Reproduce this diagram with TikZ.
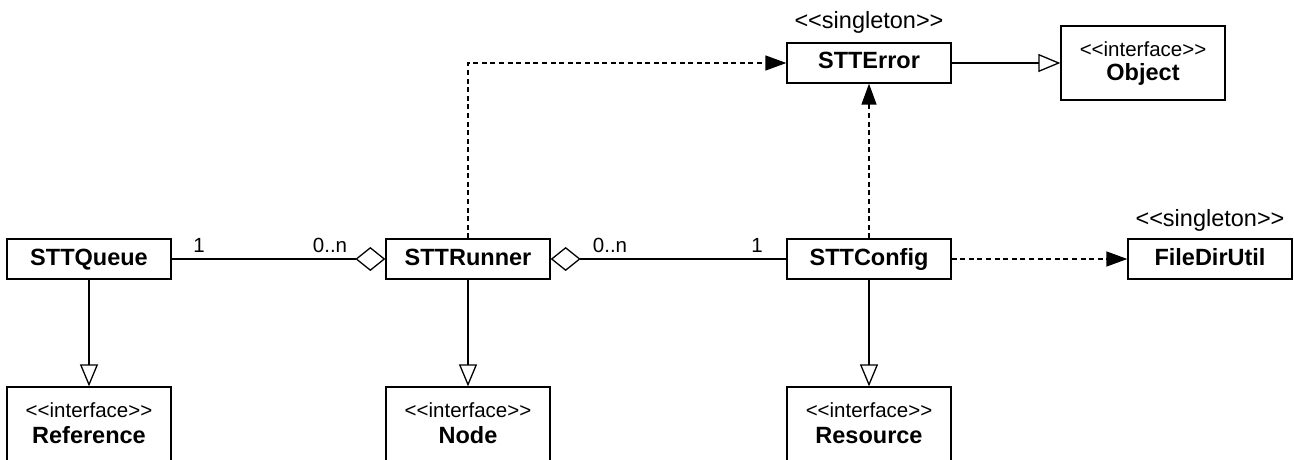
\documentclass[tikz,border=0pt]{standalone}
\usepackage{fontspec}
\setmainfont{Liberation Sans}
\usetikzlibrary{arrows.meta}
% guillemet-free stereotype brackets (a kern keeps the font mapping from joining them)
\newcommand\stlt{<\kern0pt<}
\newcommand\stgt{>\kern0pt>}
\begin{document}
\begin{tikzpicture}[x=1pt, y=-1pt,
  line width=1.3pt,
  boxbase/.style={draw, line width=1.3pt, minimum width=164pt, inner sep=0pt},
  cls/.style={boxbase, minimum height=40pt, text height=17pt, text depth=5pt,
    font=\fontsize{23.5}{28}\selectfont\bfseries},
  ifacebox/.style={boxbase, minimum height=74pt},
  ifname/.style={inner sep=0pt, text height=17pt, text depth=5pt,
    font=\fontsize{23.5}{28}\selectfont\bfseries},
  stereo/.style={inner sep=0pt, text height=15pt, text depth=0pt,
    font=\fontsize{20.5}{24}\selectfont},
  single/.style={inner sep=0pt, text height=17pt, text depth=5pt,
    font=\fontsize{23.5}{28}\selectfont},
  mult/.style={inner sep=0pt, text height=15pt, text depth=0pt,
    font=\fontsize{20.5}{24}\selectfont},
  realize/.style={-{Triangle[open, length=22pt, width=18pt]}},
  depend/.style={dash pattern=on 5pt off 3.6pt,
    -{Triangle[length=21pt, width=15pt]}},
  aggr/.style={-{Diamond[open, length=30pt, width=24pt]}},
  raggr/.style={{Diamond[open, length=30pt, width=24pt]}-}
]
\useasboundingbox (0,0) rectangle (1294,460);
\clip (0,0) rectangle (1294,460);

% classes in the middle row
\node[cls] (queue)  at (89,259)   {STTQueue};
\node[cls] (runner) at (468,259)  {STTRunner};
\node[cls] (config) at (869,259)  {STTConfig};
\node[cls] (fdu)    at (1210,259) {FileDirUtil};
\node[single] (fdu-st) at (1210,220) {\stlt singleton\stgt};

% error class and its interface
\node[cls] (err) at (869,63) {STTError};
\node[single] (err-st) at (869,23) {\stlt singleton\stgt};
\node[ifacebox] (obj) at (1143,63) {};
\node[stereo] (obj-st) at (1143,49) {\stlt interface\stgt};
\node[ifname] (obj-nm) at (1143,75) {Object};

% interfaces along the bottom
\node[ifacebox] (ref) at (89,424) {};
\node[stereo] (ref-st) at (89,410) {\stlt interface\stgt};
\node[ifname] (ref-nm) at (89,437) {Reference};

\node[ifacebox] (nodeif) at (468,424) {};
\node[stereo] (nodeif-st) at (468,410) {\stlt interface\stgt};
\node[ifname] (nodeif-nm) at (468,437) {Node};

\node[ifacebox] (res) at (869,424) {};
\node[stereo] (res-st) at (869,410) {\stlt interface\stgt};
\node[ifname] (res-nm) at (869,437) {Resource};

% aggregations with multiplicities
\draw[aggr] (queue.east) -- (runner.west);
\node[mult] (m1) at (199,245) {1};
\node[mult] (m2) at (330,245) {0..n};
\draw[raggr] (runner.east) -- (config.west);
\node[mult] (m3) at (610,245) {0..n};
\node[mult] (m4) at (757,245) {1};

% realizations
\draw[realize] (queue.south) -- (ref.north);
\draw[realize] (runner.south) -- (nodeif.north);
\draw[realize] (config.south) -- (res.north);
\draw[realize] (err.east) -- (obj.west);

% dependencies
\draw[depend] (runner.north) |- (err.west);
\draw[depend] (config.north) -- (err.south);
\draw[depend] (config.east) -- (fdu.west);
\end{tikzpicture}
\end{document}
